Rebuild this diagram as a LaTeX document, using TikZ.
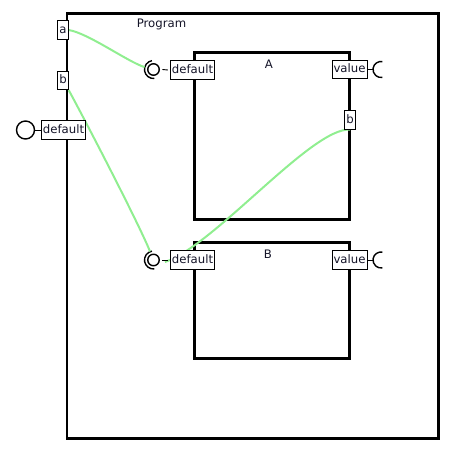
\documentclass[tikz,border=0pt]{standalone}
\usepackage{fontspec}
\setmainfont{DejaVu Sans}
\usetikzlibrary{calc}
\definecolor{wiregreen}{RGB}{144,238,144}
\definecolor{labelcol}{RGB}{20,20,40}
\begin{document}
\begin{tikzpicture}[x=1pt,y=-1pt,
  blockbox/.style={draw, line width=2.6pt, minimum width=#1, inner sep=0pt, anchor=north west},
  port/.style={draw, fill=white, line width=0.8pt, text=labelcol,
    font=\fontsize{11.7}{13}\selectfont, inner xsep=1.6pt, inner ysep=0pt,
    minimum height=18.5pt, text height=8.8pt, text depth=2.4pt},
  lbl/.style={text=labelcol, font=\fontsize{11.7}{13}\selectfont, inner sep=0pt},
  wire/.style={draw=wiregreen, line width=2pt},
  sym/.style={draw, line width=1.4pt, circle, inner sep=0pt},
  ghost/.style={circle, inner sep=0pt},
  tick/.style={draw, line width=0.9pt}]
\useasboundingbox (0,0) rectangle (464,455);

% blocks
\node[blockbox=371.5pt, minimum height=425pt] (prog) at (65.5,12) {};
\node[blockbox=155pt, minimum height=167pt] (A) at (193,51) {};
\node[blockbox=155pt, minimum height=116pt] (B) at (193,241) {};

\node[lbl] (progl) at (161.5,24.5) {Program};
\node[lbl] (Al) at (269,64.5) {A};
\node[lbl] (Bl) at (268,254.5) {B};

% symbols
\node[sym, minimum size=18pt] (pdc) at (25.5,130) {};
\node[sym, minimum size=11.5pt] (adc) at (153.5,69.5) {};
\node[ghost, minimum size=18pt] (ads) at (153.5,69.5) {};
\node[sym, minimum size=11.5pt] (bdc) at (153.5,260) {};
\node[ghost, minimum size=18pt] (bds) at (153.5,260) {};
\node[ghost, minimum size=16pt] (avs) at (381,69.5) {};
\node[ghost, minimum size=16pt] (bvs) at (381,260) {};

\foreach \c in {ads,bds}{
  \begin{scope}[shift={(\c.center)}, x=1pt, y=1pt]
    \draw[line width=1.4pt] (100:9) arc[start angle=100, end angle=275, radius=9];
  \end{scope}
}
\foreach \c in {avs,bvs}{
  \begin{scope}[shift={(\c.center)}, x=1pt, y=1pt]
    \draw[line width=1.4pt] (80:8) arc[start angle=80, end angle=280, radius=8];
  \end{scope}
}

% port boxes that wires leave from
\node[port] (pa) at (63,30) {a};
\node[port] (pb) at (63,80.5) {b};
\node[port] (Ab) at (350,120) {b};

% wires
\draw[wire] (pa.east) .. controls (88,33) and (128,62) .. (ads.165);
\draw[wire] (pb.south east) .. controls (85,120) and (138,222) .. (bds.112);
\draw[wire] (Ab.south) .. controls (312,127) and (215,245) .. ($(bdc.east)+(5,2)$);

% ports
\node[port] (pdef) at (63.5,130) {default};
\node[port] (Adef) at (192.5,70) {default};
\node[port] (Aval) at (349.5,69.5) {value};
\node[port] (Bdef) at (192.5,260) {default};
\node[port] (Bval) at (349.5,260) {value};
\node[port] (pa2) at (63,30) {a};
\node[port] (pb2) at (63,80.5) {b};
\node[port] (Ab2) at (350,120) {b};

% ticks
\draw[tick] (pdc.east) -- (pdef.west);
\draw[tick] ($(adc.east)+(2.5,0)$) -- ($(Adef.west)+(-2,0)$);
\draw[tick] ($(bdc.east)+(2.5,0)$) -- ($(Bdef.west)+(-2,0)$);
\draw[tick] (Aval.east) -- (avs.west);
\draw[tick] (Bval.east) -- (bvs.west);
\end{tikzpicture}
\end{document}
